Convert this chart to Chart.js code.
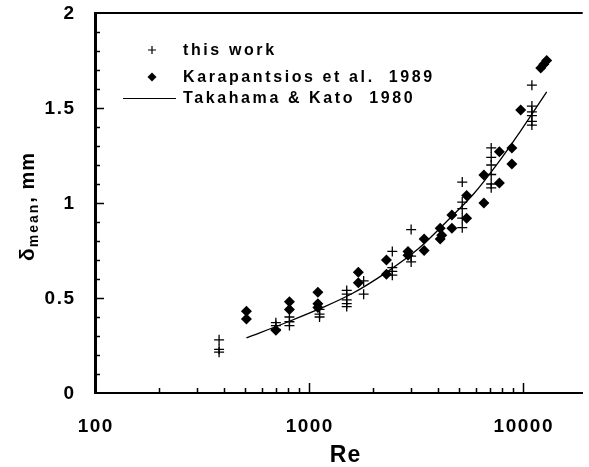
<!DOCTYPE html>
<html lang="en">
<head>
<meta charset="UTF-8">
<title>Mean film thickness vs Re</title>
<script src="https://cdn.jsdelivr.net/npm/chart.js"></script>
<style>
  html, body { margin: 0; padding: 0; background: #fff; }
  #wrap { width: 589px; height: 467px; }
</style>
</head>
<body>
<div id="wrap"><canvas id="filmChart" width="589" height="467"></canvas></div>
<script>
// this work (crosses)
const thisWorkRe = [380, 380, 380,
  700, 700, 700,
  810, 810, 810,
  1120, 1120, 1120,
  1500, 1500, 1500, 1500, 1500,
  1800, 1800,
  2450, 2450, 2450, 2450,
  3000, 3000, 3000,
  5200, 5200, 5200, 5200, 5200,
  7100, 7100, 7100, 7100, 7100, 7100,
  11000, 11000, 11000, 11000, 11000, 11000];
const thisWorkDelta = [0.28, 0.23, 0.215,
  0.37, 0.355, 0.335,
  0.40, 0.375, 0.355,
  0.44, 0.415, 0.40,
  0.54, 0.52, 0.49, 0.47, 0.455,
  0.59, 0.52,
  0.745, 0.66, 0.64, 0.62,
  0.86, 0.72, 0.69,
  1.11, 1.005, 0.97, 0.92, 0.87,
  1.29, 1.24, 1.20, 1.15, 1.10, 1.08,
  1.62, 1.51, 1.48, 1.46, 1.43, 1.41];

// Karapantsios et al. 1989 (diamonds)
const karaRe = [510, 510, 700, 810, 810, 1100, 1100, 1100,
  1700, 1700, 2300, 2300, 2900, 2900, 3450, 3450,
  4100, 4170, 4100, 4650, 4650, 5450, 5450, 6560, 6560,
  7750, 7750, 8870, 8870, 9750, 12100, 12500, 12900];
const karaDelta = [0.43, 0.39, 0.33, 0.48, 0.44, 0.53, 0.47, 0.45,
  0.635, 0.58, 0.70, 0.625, 0.745, 0.725, 0.81, 0.75,
  0.867, 0.83, 0.81, 0.937, 0.867, 1.04, 0.92, 1.147, 1.0,
  1.27, 1.105, 1.29, 1.205, 1.49, 1.71, 1.73, 1.75];

// Takahama & Kato 1980 (line)
const takaRe = [510, 800, 1130, 1600, 2300, 3250, 4650, 5900, 7400, 9750, 12900];
const takaDelta = [0.29, 0.375, 0.445, 0.525, 0.635, 0.76, 0.93, 1.05, 1.19, 1.38, 1.585];

const xTickValues = [100, 1000, 10000];
const yTickValues = [0, 0.5, 1, 1.5, 2];
const xMinorValues = [200, 300, 400, 500, 600, 700, 800, 900,
  2000, 3000, 4000, 5000, 6000, 7000, 8000, 9000];
const yMinorValues = [0.1, 0.2, 0.3, 0.4, 0.6, 0.7, 0.8, 0.9,
  1.1, 1.2, 1.3, 1.4, 1.6, 1.7, 1.8, 1.9];

const toPoints = (xs, ys) => xs.map((v, i) => ({ x: v, y: ys[i] }));

const FONT = "'Liberation Sans', Arial, Helvetica, sans-serif";

// text with letter spacing, aligned without the trailing gap
function spacedText(ctx, text, x, y, align, spacing) {
  ctx.letterSpacing = spacing + 'px';
  const w = ctx.measureText(text).width - spacing;
  let left = x;
  if (align === 'center') left = x - w / 2;
  if (align === 'right') left = x - w;
  ctx.textAlign = 'left';
  ctx.fillText(text, left, y);
  return w + spacing;
}

// ticks inside the frame, tick labels, top border, legend, axis titles
const decorations = {
  id: 'decorations',
  afterDraw(chart) {
    const { ctx, chartArea: a, scales: { x, y } } = chart;
    ctx.save();
    ctx.strokeStyle = '#000';
    ctx.fillStyle = '#000';

    ctx.lineWidth = 2;
    ctx.beginPath();
    ctx.moveTo(a.left, a.top);
    ctx.lineTo(a.right, a.top);
    ctx.stroke();

    ctx.lineWidth = 1.5;
    ctx.beginPath();
    yMinorValues.forEach(v => {
      const py = Math.round(y.getPixelForValue(v)) + 0.5;
      ctx.moveTo(a.left, py); ctx.lineTo(a.left + 5, py);
    });
    [0.5, 1, 1.5].forEach(v => {
      const py = Math.round(y.getPixelForValue(v)) + 0.5;
      ctx.moveTo(a.left, py); ctx.lineTo(a.left + 9, py);
    });
    xMinorValues.forEach(v => {
      const px = Math.round(x.getPixelForValue(v)) + 0.5;
      ctx.moveTo(px, a.bottom); ctx.lineTo(px, a.bottom - 5);
    });
    [1000, 10000].forEach(v => {
      const px = Math.round(x.getPixelForValue(v)) + 0.5;
      ctx.moveTo(px, a.bottom); ctx.lineTo(px, a.bottom - 10);
    });
    ctx.stroke();

    // tick labels
    ctx.font = 'bold 19px ' + FONT;
    ctx.textBaseline = 'middle';
    yTickValues.forEach(v => {
      spacedText(ctx, String(v), a.left - 21, y.getPixelForValue(v) + 1, 'right', 1.5);
    });
    ctx.textBaseline = 'alphabetic';
    xTickValues.forEach(v => {
      spacedText(ctx, String(v), x.getPixelForValue(v), 432, 'center', 1.5);
    });

    // legend
    ctx.font = 'bold 16px ' + FONT;
    ctx.lineWidth = 1.2;
    ctx.beginPath();
    ctx.moveTo(148, 50); ctx.lineTo(156, 50);
    ctx.moveTo(152, 46); ctx.lineTo(152, 54);
    ctx.stroke();
    spacedText(ctx, 'this work', 183, 55, 'left', 2.6);

    ctx.beginPath();
    ctx.moveTo(152, 72.5); ctx.lineTo(156.5, 77); ctx.lineTo(152, 81.5); ctx.lineTo(147.5, 77);
    ctx.closePath();
    ctx.fill();
    spacedText(ctx, 'Karapantsios et al.  1989', 183, 82, 'left', 2.6);

    ctx.beginPath();
    ctx.moveTo(123, 98.5); ctx.lineTo(176, 98.5);
    ctx.stroke();
    spacedText(ctx, 'Takahama & Kato  1980', 183, 103, 'left', 2.6);

    // x title
    ctx.font = 'bold 23px ' + FONT;
    spacedText(ctx, 'Re', 345, 462, 'center', 1);

    // y title
    ctx.translate(34, 261);
    ctx.rotate(-Math.PI / 2);
    ctx.font = 'bold 21px ' + FONT;
    let cx = spacedText(ctx, '\u03b4', 0, 0, 'left', 1);
    ctx.font = 'bold 14px ' + FONT;
    cx += spacedText(ctx, 'mean', cx, 4, 'left', 2);
    ctx.font = 'bold 20px ' + FONT;
    spacedText(ctx, ', mm', cx, 0, 'left', 1);
    ctx.restore();
  }
};

new Chart(document.getElementById('filmChart'), {
  type: 'scatter',
  data: {
    datasets: [
      {
        label: 'this work',
        data: toPoints(thisWorkRe, thisWorkDelta),
        pointStyle: 'cross',
        radius: 5,
        borderColor: '#000',
        borderWidth: 1.3
      },
      {
        label: 'Karapantsios et al. 1989',
        data: toPoints(karaRe, karaDelta),
        pointStyle: 'rectRot',
        radius: 5.5,
        backgroundColor: '#000',
        borderColor: '#000',
        borderWidth: 0
      },
      {
        label: 'Takahama & Kato 1980',
        data: toPoints(takaRe, takaDelta),
        showLine: true,
        pointRadius: 0,
        borderColor: '#000',
        borderWidth: 1.3,
        cubicInterpolationMode: 'monotone'
      }
    ]
  },
  options: {
    responsive: false,
    devicePixelRatio: 1,
    animation: false,
    layout: { padding: { top: 13, right: 0, left: 0, bottom: 0 } },
    plugins: { legend: { display: false }, tooltip: { enabled: false } },
    scales: {
      x: {
        type: 'logarithmic',
        min: 100,
        max: 19000,
        grid: { display: false },
        border: { color: '#000', width: 2 },
        afterBuildTicks: s => { s.ticks = xTickValues.map(v => ({ value: v })); },
        afterFit: s => { s.height = 74; },
        ticks: { display: false }
      },
      y: {
        min: 0,
        max: 2,
        grid: { display: false },
        border: { color: '#000', width: 3 },
        afterFit: s => { s.width = 95; },
        ticks: { display: false, stepSize: 0.5 }
      }
    }
  },
  plugins: [decorations]
});
</script>
</body>
</html>
